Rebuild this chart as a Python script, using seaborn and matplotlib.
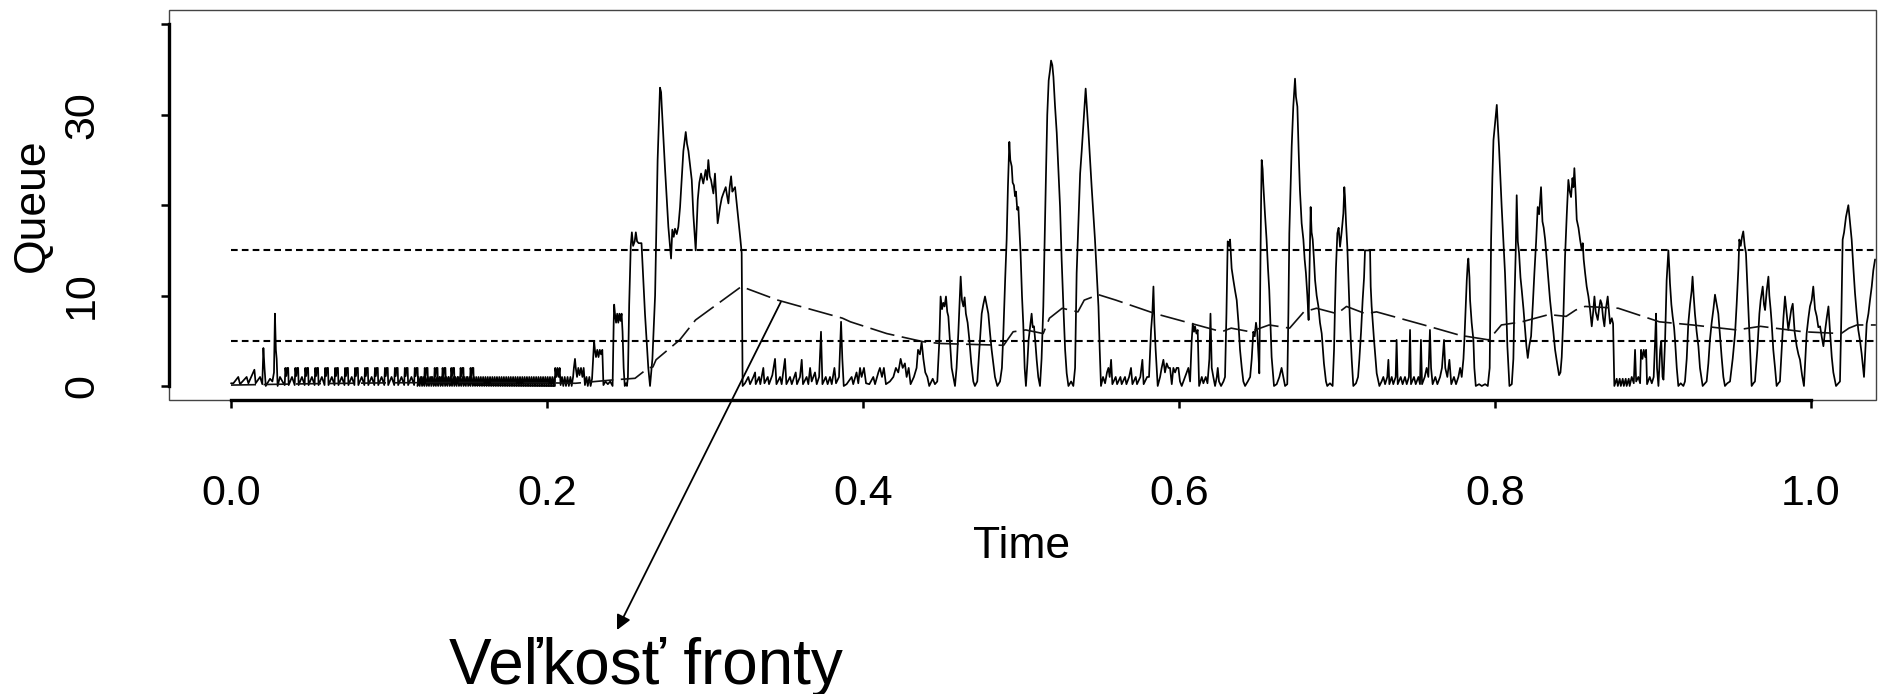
import numpy as np
import matplotlib
matplotlib.use("Agg")
import matplotlib.pyplot as plt
import seaborn as sns
from matplotlib.patches import Rectangle

# instantaneous queue, flat lists of (time, packets) pairs
q_start = [
    0.0000, 0.3, 0.0015, 0.3, 0.0046, 1, 0.0057, 0.2, 0.0099, 1, 0.0110, 0.3,
    0.0148, 1.8, 0.0156, 0.3, 0.0184, 1, 0.0198, 0.2, 0.0205, 4.2, 0.0212, 2,
    0.0220, 0, 0.0247, 0.8, 0.0262, 0.5, 0.0272, 1.5, 0.0278, 8, 0.0284, 4,
    0.0289, 3, 0.0295, 0, 0.0310, 1, 0.0335, 0.2,
]

q_pulses = [
    0.0340, 0.1, 0.0344, 2, 0.0350, 1.1, 0.0355, 2, 0.0362, 2, 0.0365, 0.1, 0.0386, 1,
    0.0403, 0.1, 0.0407, 2, 0.0413, 1.1, 0.0418, 2, 0.0425, 2, 0.0428, 0.1, 0.0449, 1,
    0.0466, 0.1, 0.0470, 2, 0.0476, 1.1, 0.0481, 2, 0.0488, 2, 0.0491, 0.1, 0.0512, 1,
    0.0529, 0.1, 0.0533, 2, 0.0539, 1.1, 0.0544, 2, 0.0551, 2, 0.0554, 0.1, 0.0575, 1,
    0.0592, 0.1, 0.0596, 2, 0.0602, 1.1, 0.0607, 2, 0.0614, 2, 0.0617, 0.1, 0.0638, 1,
    0.0655, 0.1, 0.0659, 2, 0.0665, 1.1, 0.0670, 2, 0.0677, 2, 0.0680, 0.1, 0.0701, 1,
    0.0718, 0.1, 0.0722, 2, 0.0728, 1.1, 0.0733, 2, 0.0740, 2, 0.0743, 0.1, 0.0764, 1,
    0.0781, 0.1, 0.0785, 2, 0.0791, 1.1, 0.0796, 2, 0.0803, 2, 0.0806, 0.1, 0.0827, 1,
    0.0844, 0.1, 0.0848, 2, 0.0854, 1.1, 0.0859, 2, 0.0866, 2, 0.0869, 0.1, 0.0890, 1,
    0.0907, 0.1, 0.0911, 2, 0.0917, 1.1, 0.0922, 2, 0.0929, 2, 0.0932, 0.1, 0.0953, 1,
    0.0970, 0.1, 0.0974, 2, 0.0980, 1.1, 0.0985, 2, 0.0992, 2, 0.0995, 0.1, 0.1016, 1,
    0.1033, 0.1, 0.1037, 2, 0.1043, 1.1, 0.1048, 2, 0.1055, 2, 0.1058, 0.1, 0.1079, 1,
    0.1096, 0.1, 0.1100, 2, 0.1106, 1.1, 0.1111, 2, 0.1118, 2, 0.1121, 0.1, 0.1142, 1,
    0.1159, 0.1, 0.1163, 2, 0.1169, 1.1, 0.1174, 2, 0.1181, 2, 0.1184, 0.1, 0.1205, 1,
    0.1222, 0.1, 0.1226, 2, 0.1232, 1.1, 0.1237, 2, 0.1244, 2, 0.1247, 0.1, 0.1268, 1,
    0.1285, 0.1, 0.1289, 2, 0.1295, 1.1, 0.1300, 2, 0.1307, 2, 0.1310, 0.1, 0.1322, 1,
    0.1335, 0.1, 0.1339, 2, 0.1345, 1.1, 0.1350, 2, 0.1357, 2, 0.1360, 0.1, 0.1377, 1,
    0.1390, 0.1, 0.1394, 2, 0.1400, 1.1, 0.1405, 2, 0.1412, 2, 0.1415, 0.1, 0.1436, 1,
    0.1449, 0.1, 0.1453, 2, 0.1459, 1.1, 0.1464, 2, 0.1471, 2, 0.1474, 0.1, 0.1495, 1,
    0.1512, 0.1, 0.1516, 2, 0.1522, 1.1, 0.1527, 2, 0.1534, 2, 0.1537, 0.1,
]

# the solid black strip where the queue flips between 0 and 1
band_span = (0.118, 0.2048)
band_q = [
    0, 1, 0, 1, 0, 1, 0, 1, 0, 1, 0, 1, 0, 1, 0, 1, 0, 1, 0, 1,
    0, 1, 0, 1, 0, 1, 0, 1, 0, 1, 0, 1, 0, 1, 0, 1, 0, 1, 0, 1,
    0, 1, 0, 1, 0, 1, 0, 1, 0, 1, 0, 1, 0, 1, 0, 1, 0, 1, 0, 1,
    0, 1, 0, 1, 0, 1, 0, 1, 0, 1, 0, 1, 0, 1, 0, 1, 0, 1, 0, 1,
    0, 1, 0, 1, 0, 1, 0, 1, 0, 1, 0, 1, 0, 1, 0, 1, 0, 1, 0, 1,
    0, 1, 0, 1, 0, 1, 0, 1, 0, 1, 0, 1, 0, 1, 0, 1, 0, 1, 0, 1,
]

q_burst1 = [
    0.2050, 0, 0.2052, 2, 0.2060, 1, 0.2066, 2, 0.2074, 1, 0.2080, 2, 0.2086, 0.1,
    0.2095, 1, 0.2103, 0, 0.2112, 1, 0.2120, 0, 0.2130, 1, 0.2138, 0, 0.2148, 1,
    0.2156, 0, 0.2165, 1, 0.2170, 2, 0.2177, 3, 0.2182, 2, 0.2190, 1, 0.2198, 2,
    0.2206, 1.2, 0.2215, 2, 0.2224, 1, 0.2232, 2, 0.2240, 0.1, 0.2250, 1, 0.2258, 0,
    0.2268, 1, 0.2276, 0, 0.2285, 0.8, 0.2295, 4, 0.2298, 5, 0.2303, 4, 0.2310, 3.2,
    0.2318, 4, 0.2326, 3.2, 0.2334, 4, 0.2342, 3.5, 0.2350, 4, 0.2357, 0.1,
    0.2370, 0.5, 0.2385, 0.2, 0.2400, 0.5, 0.2415, 0, 0.2422, 7, 0.2425, 9,
    0.2430, 8, 0.2437, 7, 0.2444, 8, 0.2451, 7, 0.2458, 8, 0.2465, 7.2, 0.2472, 8,
    0.2478, 6, 0.2485, 2, 0.2492, 0, 0.2500, 0.3, 0.2506, 0, 0.2512, 1, 0.2520, 9,
    0.2530, 15.5, 0.2537, 17, 0.2545, 15.5, 0.2555, 16, 0.2562, 17, 0.2570, 16,
    0.2580, 15.8, 0.2598, 15.8, 0.2620, 8, 0.2641, 2, 0.2652, 0, 0.2667, 3,
    0.2684, 10, 0.2700, 25, 0.2715, 33, 0.2722, 32.5, 0.2726, 31, 0.2747, 24,
    0.2768, 17.6, 0.2785, 14.1, 0.2793, 17.3, 0.2802, 16.5, 0.2810, 17.4,
    0.2821, 16.8, 0.2831, 17.6, 0.2842, 19.8, 0.2863, 26, 0.2878, 28.1,
    0.2886, 26.8, 0.2895, 26, 0.2916, 22.8, 0.2926, 19, 0.2941, 15, 0.2954, 20.6,
    0.2964, 22.5, 0.2975, 23.5, 0.2989, 22.4, 0.3004, 23.9, 0.3013, 22.8,
    0.3021, 25, 0.3030, 23.2, 0.3038, 22.8, 0.3053, 21.3, 0.3063, 23.5,
    0.3072, 20.5, 0.3080, 18, 0.3095, 19.8, 0.3106, 20.8, 0.3116, 21.3,
    0.3131, 22, 0.3140, 21, 0.3148, 20.2, 0.3156, 22, 0.3165, 23.2, 0.3173, 21.5,
    0.3179, 21.7, 0.3190, 22, 0.3207, 19.1, 0.3224, 16.2, 0.3232, 14.7, 0.3238, 0,
]

q_quiet1 = [
    0.3253, 0.3, 0.3274, 1, 0.3285, 0.2, 0.3306, 1, 0.3317, 1.5, 0.3321, 0.2,
    0.3342, 1, 0.3350, 0.2, 0.3369, 2, 0.3376, 0.3, 0.3397, 1, 0.3405, 0.2,
    0.3426, 1.2, 0.3443, 3, 0.3452, 0.2, 0.3475, 1, 0.3485, 0.2, 0.3506, 3,
    0.3515, 0.2, 0.3538, 1, 0.3549, 0.2, 0.3574, 1.5, 0.3582, 0.2, 0.3601, 1,
    0.3612, 2.9, 0.3620, 0.2, 0.3643, 1, 0.3654, 0.2, 0.3665, 2, 0.3675, 0.5,
    0.3696, 1.5, 0.3707, 0.2, 0.3722, 1, 0.3734, 6, 0.3743, 0.2, 0.3764, 1,
    0.3776, 0.2, 0.3791, 1, 0.3802, 0.2, 0.3819, 2, 0.3829, 0.3, 0.3848, 1,
    0.3861, 7.1, 0.3869, 3, 0.3878, 0, 0.3896, 0.2, 0.3928, 1, 0.3938, 0.2,
    0.3959, 1.5, 0.3970, 0.3, 0.3981, 2, 0.3991, 1, 0.4006, 2, 0.4019, 0.3,
    0.4040, 0.2, 0.4065, 1, 0.4076, 0.2, 0.4097, 1.5, 0.4107, 2, 0.4120, 1,
    0.4132, 2, 0.4145, 0.2, 0.4170, 0.5, 0.4192, 1, 0.4208, 2, 0.4223, 1.5,
    0.4238, 3, 0.4251, 2, 0.4265, 2.5, 0.4276, 1, 0.4289, 2, 0.4301, 0.2,
    0.4322, 1, 0.4339, 2, 0.4348, 4, 0.4360, 3.5, 0.4371, 4.9, 0.4382, 3,
    0.4394, 1.5, 0.4407, 1, 0.4419, 0, 0.4441, 0.8, 0.4455, 0.2, 0.4470, 0.5,
]

q_mid = [
    0.4483, 5, 0.4491, 9.9, 0.4500, 8.5, 0.4508, 9.2, 0.4516, 8.8, 0.4525, 9.9,
    0.4533, 8.2, 0.4540, 7.7, 0.4550, 5, 0.4561, 2, 0.4582, 0, 0.4592, 2,
    0.4603, 5.8, 0.4618, 12.1, 0.4626, 9.5, 0.4635, 8.8, 0.4643, 9.8, 0.4651, 8,
    0.4662, 7, 0.4673, 5.1, 0.4685, 2.5, 0.4698, 0.5, 0.4708, 0, 0.4723, 0.5,
    0.4740, 5, 0.4751, 8, 0.4761, 9, 0.4772, 9.9, 0.4782, 9, 0.4793, 8,
    0.4803, 6, 0.4814, 4, 0.4835, 1, 0.4850, 0, 0.4867, 0.5, 0.4879, 2,
    0.4888, 5.8, 0.4900, 12, 0.4909, 16.2, 0.4917, 22, 0.4926, 27, 0.4932, 25,
    0.4941, 24.3, 0.4947, 22.5, 0.4955, 22.2, 0.4962, 21, 0.4968, 21.5,
    0.4976, 19.5, 0.4983, 19.8, 0.4989, 17.5, 0.4997, 14.7, 0.5006, 10,
    0.5014, 6.9, 0.5023, 2, 0.5031, 0, 0.5040, 2.5, 0.5048, 5.1, 0.5057, 6.5,
    0.5067, 8, 0.5074, 6.5, 0.5082, 6.6, 0.5090, 5, 0.5099, 2.9, 0.5109, 1,
    0.5120, 0, 0.5130, 3, 0.5141, 8.8, 0.5149, 16, 0.5158, 23.5, 0.5166, 30,
    0.5175, 33.8, 0.5184, 35, 0.5190, 36, 0.5198, 35.5, 0.5205, 34.2, 0.5215, 31,
    0.5226, 28, 0.5236, 24, 0.5247, 19.8, 0.5257, 14, 0.5268, 8.8, 0.5279, 4,
    0.5289, 1.4, 0.5300, 0, 0.5317, 0.5, 0.5331, 0, 0.5342, 2, 0.5352, 12.5,
    0.5363, 18, 0.5374, 23.5, 0.5384, 26, 0.5395, 29, 0.5403, 31, 0.5409, 32.9,
    0.5418, 30.5, 0.5426, 28.3, 0.5437, 25, 0.5447, 22, 0.5458, 19, 0.5468, 16.2,
    0.5479, 12.5, 0.5490, 8.8, 0.5498, 4, 0.5506, 0, 0.5519, 1, 0.5532, 0.3,
    0.5544, 1.5, 0.5553, 2, 0.5561, 1, 0.5570, 2.9, 0.5578, 0.2, 0.5599, 1,
    0.5608, 0.2, 0.5629, 1, 0.5637, 0.2, 0.5658, 1, 0.5667, 0.2, 0.5684, 1,
    0.5696, 2, 0.5705, 0.2, 0.5726, 1, 0.5734, 0.2, 0.5755, 1, 0.5768, 2.9,
    0.5776, 0.2, 0.5798, 1, 0.5810, 1, 0.5823, 6.2, 0.5831, 8, 0.5838, 11,
    0.5844, 7, 0.5852, 4, 0.5865, 0, 0.5880, 1, 0.5890, 2, 0.5901, 2.9,
    0.5911, 1.5, 0.5922, 2.5, 0.5933, 2, 0.5943, 2, 0.5954, 0.2, 0.5964, 2,
    0.5975, 1.5, 0.5985, 2, 0.5996, 2, 0.6006, 0.5, 0.6017, 0, 0.6038, 1,
    0.6049, 1.5, 0.6059, 2, 0.6070, 0.5, 0.6080, 5, 0.6087, 6.9, 0.6095, 6,
    0.6101, 6.6, 0.6110, 5.8, 0.6118, 6.2, 0.6127, 0, 0.6144, 1, 0.6154, 0.3,
    0.6169, 1, 0.6180, 0.3, 0.6192, 3, 0.6199, 8, 0.6207, 2, 0.6217, 1,
    0.6228, 0, 0.6239, 1, 0.6245, 2, 0.6253, 0.5, 0.6266, 0, 0.6281, 0.5,
    0.6291, 1, 0.6300, 8, 0.6308, 16, 0.6317, 15.5, 0.6323, 16.2, 0.6333, 13,
    0.6344, 11.7, 0.6355, 10.5, 0.6365, 9.5, 0.6376, 7, 0.6386, 4, 0.6397, 2,
    0.6407, 0.5, 0.6418, 0, 0.6435, 0.5, 0.6450, 1, 0.6460, 3,
]

q_late = [
    0.6470, 6, 0.6479, 5.5, 0.6487, 7, 0.6495, 6, 0.6504, 3, 0.6508, 1.4,
    0.6514, 12, 0.6519, 20, 0.6523, 25, 0.6529, 24, 0.6533, 22.4, 0.6544, 19,
    0.6554, 16.2, 0.6563, 13, 0.6571, 10.6, 0.6580, 6, 0.6586, 3.2, 0.6601, 0,
    0.6618, 0.2, 0.6635, 1, 0.6649, 2, 0.6660, 1, 0.6671, 0, 0.6685, 0.2,
    0.6692, 8, 0.6698, 16.9, 0.6706, 22, 0.6713, 26.5, 0.6719, 29, 0.6723, 30.9,
    0.6734, 34, 0.6740, 32, 0.6749, 30.9, 0.6757, 26, 0.6765, 21.7, 0.6776, 18,
    0.6787, 16.2, 0.6795, 14, 0.6803, 12.5, 0.6812, 10, 0.6820, 7.3, 0.6827, 14,
    0.6833, 19.8, 0.6839, 17, 0.6846, 16.2, 0.6854, 14, 0.6861, 11.7, 0.6871, 10,
    0.6882, 8.8, 0.6892, 7, 0.6903, 5.8, 0.6917, 2.5, 0.6930, 0.5, 0.6938, 0,
    0.6955, 0.3, 0.6972, 0, 0.6981, 4, 0.6987, 8.8, 0.6993, 13, 0.7002, 16.9,
    0.7010, 17.5, 0.7019, 15.4, 0.7029, 17, 0.7040, 19.1, 0.7046, 22, 0.7050, 21,
    0.7057, 18, 0.7065, 15.4, 0.7074, 11, 0.7082, 6.9, 0.7093, 2.9, 0.7103, 0,
    0.7120, 0.3, 0.7133, 1, 0.7141, 2.9, 0.7152, 6, 0.7162, 9.5, 0.7171, 12,
    0.7177, 15, 0.7209, 15, 0.7213, 11, 0.7219, 8.8, 0.7234, 5.1, 0.7251, 1.4,
    0.7268, 0, 0.7282, 0.5, 0.7293, 1, 0.7304, 0.2, 0.7318, 1, 0.7325, 2.9,
    0.7331, 0.2, 0.7346, 1, 0.7356, 0.2, 0.7371, 1, 0.7377, 5.1, 0.7384, 0.2,
    0.7403, 1, 0.7415, 0.2, 0.7430, 1, 0.7441, 0.2, 0.7455, 1, 0.7462, 6.2,
    0.7468, 0.2, 0.7487, 1, 0.7498, 0.2, 0.7515, 1, 0.7525, 0.2, 0.7531, 5.1,
    0.7538, 0.2, 0.7555, 1, 0.7567, 2, 0.7578, 1, 0.7588, 6.2, 0.7595, 2,
    0.7605, 0.2, 0.7622, 1, 0.7635, 0.2, 0.7652, 1, 0.7664, 2, 0.7677, 5.1,
    0.7685, 2, 0.7698, 1, 0.7711, 2.9, 0.7723, 0.2, 0.7740, 1, 0.7753, 0.2,
]

q_end = [
    0.7768, 1, 0.7779, 2, 0.7789, 1, 0.7800, 3, 0.7806, 5.1, 0.7815, 9,
    0.7821, 11.7, 0.7827, 13.5, 0.7831, 14.1, 0.7838, 12, 0.7842, 9.5, 0.7852, 7,
    0.7863, 5.1, 0.7869, 2, 0.7878, 0, 0.7899, 0.2, 0.7916, 0, 0.7937, 0.2,
    0.7954, 0, 0.7966, 2, 0.7975, 16.2, 0.7983, 23, 0.7990, 27.2, 0.8000, 29,
    0.8011, 31.1, 0.8017, 29, 0.8025, 26.5, 0.8034, 23, 0.8042, 19.8, 0.8053, 16,
    0.8063, 12.5, 0.8072, 8, 0.8078, 4.4, 0.8091, 0, 0.8106, 0.2, 0.8116, 3,
    0.8122, 8.8, 0.8131, 15, 0.8137, 21.1, 0.8144, 16, 0.8152, 14.7, 0.8161, 12,
    0.8169, 10.6, 0.8180, 8.5, 0.8190, 6.2, 0.8198, 4.5, 0.8207, 3.1, 0.8217, 4.5,
    0.8228, 5.5, 0.8239, 9, 0.8249, 12.5, 0.8260, 16, 0.8270, 19.8, 0.8279, 19,
    0.8285, 20.5, 0.8291, 22, 0.8300, 18.2, 0.8308, 17.5, 0.8317, 16.2, 0.8327, 14,
    0.8338, 11.7, 0.8348, 9.5, 0.8359, 7.7, 0.8369, 6, 0.8380, 4, 0.8393, 2.5,
    0.8405, 1.2, 0.8414, 1.5, 0.8422, 3.2, 0.8433, 8, 0.8443, 14.3, 0.8454, 19,
    0.8464, 22.8, 0.8473, 21.5, 0.8481, 20.9, 0.8490, 23, 0.8496, 22, 0.8502, 24.1,
    0.8511, 21, 0.8517, 18.4, 0.8528, 17.5, 0.8538, 16.2, 0.8549, 15, 0.8555, 15.8,
    0.8561, 14, 0.8570, 12.5, 0.8580, 11, 0.8591, 9.9, 0.8601, 8.5, 0.8612, 6.6,
    0.8620, 8, 0.8629, 9.9, 0.8637, 8.2, 0.8650, 7.3, 0.8658, 8.5, 0.8667, 9.5,
    0.8675, 9.1, 0.8684, 7.5, 0.8692, 6.6, 0.8701, 8.5, 0.8713, 9.9, 0.8722, 8,
    0.8728, 6.9, 0.8739, 7.5, 0.8747, 6.9, 0.8755, 0, 0.8770, 0.8, 0.8777, 0,
    0.8789, 0.8, 0.8796, 0, 0.8808, 0.8, 0.8815, 0, 0.8827, 0.8, 0.8833, 0,
    0.8846, 0.8, 0.8852, 0, 0.8865, 1, 0.8878, 0.3, 0.8886, 4, 0.8893, 0.5,
    0.8907, 1, 0.8918, 0.3, 0.8924, 4, 0.8933, 3, 0.8941, 4, 0.8950, 3.2,
    0.8956, 4, 0.8962, 0.2, 0.8979, 1, 0.8992, 0.3, 0.9004, 1, 0.9013, 5,
    0.9019, 8, 0.9025, 2, 0.9034, 0, 0.9045, 4, 0.9052, 5, 0.9060, 1,
    0.9066, 0.7, 0.9076, 5, 0.9086, 11.7, 0.9097, 15, 0.9103, 13, 0.9107, 11.4,
    0.9116, 9, 0.9124, 7.7, 0.9133, 6.5, 0.9139, 5.1, 0.9150, 2, 0.9160, 0,
    0.9175, 0.3, 0.9192, 0, 0.9202, 0.5, 0.9213, 3, 0.9223, 6.9, 0.9234, 9,
    0.9244, 10.5, 0.9250, 12.1, 0.9257, 10, 0.9265, 8, 0.9276, 6, 0.9287, 4.4,
    0.9297, 2, 0.9314, 0, 0.9329, 0.3, 0.9339, 0.5, 0.9350, 2.5, 0.9360, 5.1,
    0.9371, 7, 0.9382, 8.5, 0.9392, 10.1, 0.9403, 9, 0.9413, 8, 0.9424, 5.5,
    0.9434, 3.2, 0.9445, 1, 0.9455, 0, 0.9470, 0.3, 0.9487, 0.5, 0.9504, 3,
    0.9519, 5.8, 0.9529, 9, 0.9540, 13, 0.9546, 16.2, 0.9555, 15.5, 0.9563, 16.5,
    0.9571, 17.1, 0.9580, 15.5, 0.9588, 14.7, 0.9597, 11, 0.9603, 8.8, 0.9614, 4,
    0.9624, 0, 0.9635, 0.3, 0.9645, 0.5, 0.9660, 4, 0.9673, 8, 0.9681, 9.5,
    0.9694, 11, 0.9702, 9, 0.9709, 8.4, 0.9719, 10.5, 0.9730, 12.1, 0.9736, 10,
    0.9744, 8.5, 0.9751, 6.9, 0.9761, 4, 0.9772, 2, 0.9782, 0, 0.9793, 0.3,
    0.9803, 0.5, 0.9814, 4, 0.9825, 7.5, 0.9835, 9.9, 0.9846, 8, 0.9856, 6.2,
    0.9867, 7.5, 0.9875, 8.5, 0.9884, 9.1, 0.9896, 6, 0.9909, 4.4, 0.9920, 3.5,
    0.9930, 2.9, 0.9943, 1.2, 0.9955, 0, 0.9964, 3, 0.9972, 5.8, 0.9983, 7.5,
    0.9993, 8.8, 1.0004, 9.5, 1.0014, 11, 1.0025, 8.5, 1.0036, 7.7, 1.0046, 6.5,
    1.0057, 6.6, 1.0067, 5.5, 1.0078, 4.4, 1.0088, 6, 1.0099, 7.5, 1.0110, 8.8,
    1.0120, 6, 1.0131, 3.2, 1.0141, 1.5, 1.0158, 0, 1.0173, 0.3, 1.0183, 0.5,
    1.0192, 8, 1.0200, 16.2, 1.0209, 17, 1.0221, 18.7, 1.0230, 19.5, 1.0236, 20,
    1.0247, 18, 1.0257, 16.2, 1.0268, 13, 1.0278, 10.3, 1.0289, 8, 1.0299, 6.2,
    1.0310, 5, 1.0320, 3.6, 1.0335, 1, 1.0344, 4, 1.0352, 6.9, 1.0363, 8,
    1.0373, 9.5, 1.0384, 11, 1.0394, 12.8, 1.0405, 14,
]

# weighted average queue size (the long-dashed curve)
avg_t = [0.0, 0.05, 0.10, 0.15, 0.20, 0.218, 0.241, 0.2557, 0.2641, 0.267,
         0.269, 0.284, 0.294, 0.323, 0.346, 0.387, 0.392, 0.415, 0.438, 0.449,
         0.489, 0.495, 0.503, 0.514, 0.518, 0.526, 0.536, 0.540, 0.549, 0.560,
         0.585, 0.627, 0.633, 0.645, 0.657, 0.670, 0.679, 0.687, 0.700, 0.706,
         0.718, 0.725, 0.755, 0.778, 0.796, 0.804, 0.817, 0.834, 0.845, 0.851,
         0.857, 0.878, 0.904, 0.925, 0.953, 0.968, 0.995, 1.019, 1.024, 1.029,
         1.041]
avg_q = [0.1, 0.25, 0.35, 0.4, 0.35, 0.3, 0.66, 0.85, 2.0, 2.1,
         2.9, 5.1, 7.3, 11.0, 9.5, 7.5, 7.1, 5.8, 4.9, 4.7,
         4.5, 6.0, 6.2, 5.8, 7.5, 8.6, 8.2, 9.5, 10.1, 9.5,
         8.0, 6.0, 6.4, 6.0, 6.75, 6.4, 8.2, 8.6, 8.0, 8.8,
         8.0, 8.2, 6.75, 5.6, 5.1, 6.75, 7.1, 7.9, 7.7, 8.4,
         8.8, 8.6, 7.1, 6.75, 6.2, 6.6, 6.0, 5.8, 6.4, 6.75,
         6.75]

thresholds = [5, 15]          # min_th, max_th
x_ticks = [0.0, 0.2, 0.4, 0.6, 0.8, 1.0]
x_ticklabels = ["0.0", "0.2", "0.4", "0.6", "0.8", "1.0"]
y_ticks = [0, 10, 20, 30, 40]
y_ticklabels = ["0", "10", "", "30", ""]

sns.set_style("white")
plt.rcParams['font.family'] = ['Liberation Sans', 'DejaVu Sans']
plt.rcParams['text.color'] = 'black'
plt.rcParams['axes.labelcolor'] = 'black'

W, H = 1882, 694
fig = plt.figure(figsize=(W / 100, H / 100), dpi=100)
ax = fig.add_axes([168.75 / W, 1 - 400 / H, (1876 - 168.75) / W, (400 - 9.5) / H])

main = np.array(q_start + q_pulses + q_burst1 + q_quiet1 + q_mid + q_late + q_end).reshape(-1, 2)
sns.lineplot(x=main[:, 0], y=main[:, 1], color='black', lw=1.25,
             estimator=None, sort=False, ax=ax)

band_t = np.linspace(band_span[0], band_span[1], len(band_q))
sns.lineplot(x=band_t, y=band_q, color='black', lw=1.25,
             estimator=None, sort=False, ax=ax)

sns.lineplot(x=avg_t, y=avg_q, color='#111111', lw=1.2,
             estimator=None, sort=False, ax=ax)
ax.lines[-1].set_dashes([15, 4.5])

xmax = 1.0411
ax.hlines(thresholds, 0, xmax, colors='black', lw=1.5, linestyles=(0, (3.2, 2.0)))

ax.set_xlim(-0.0394, xmax)
ax.set_ylim(-1.55, 41.65)

# R-style frame: thin box plus heavy axis lines spanning the tick range
for s in ax.spines.values():
    s.set_visible(False)
ax.add_patch(Rectangle((0, 0), 1, 1, transform=ax.transAxes, fill=False,
                       edgecolor='#444444', lw=1.0, clip_on=False))
for side, lo, hi in (('left', 0, 40), ('bottom', 0, 1.0)):
    sp = ax.spines[side]
    sp.set_visible(True)
    sp.set_bounds(lo, hi)
    sp.set_linewidth(2.4)
    sp.set_color('black')

ax.set_xticks(x_ticks, x_ticklabels)
ax.set_yticks(y_ticks, y_ticklabels, rotation=90, va='center')
ax.tick_params(axis='both', direction='out', length=6, width=1.8,
               colors='black', labelsize=31, left=True, bottom=True)
ax.tick_params(axis='x', pad=47)
ax.tick_params(axis='y', pad=42)

fig.text(1022 / W, 1 - 546 / H, "Time", ha='center', va='center',
         fontsize=32, color='black')
fig.text(32 / W, 1 - 205 / H, "Queue", ha='center', va='center',
         rotation=90, fontsize=32, color='black')
fig.text(646 / W, 1 - 684 / H, "Veľkosť fronty", ha='center',
         va='baseline', fontsize=46, color='black')

ax.annotate("", xy=(617 / W, 1 - 630 / H), xycoords='figure fraction',
            xytext=(0.348, 9.3), textcoords='data',
            arrowprops=dict(arrowstyle='-|>', color='black', lw=1.3,
                            mutation_scale=22, shrinkA=0, shrinkB=0),
            annotation_clip=False)

fig.savefig("out.png", dpi=100)
